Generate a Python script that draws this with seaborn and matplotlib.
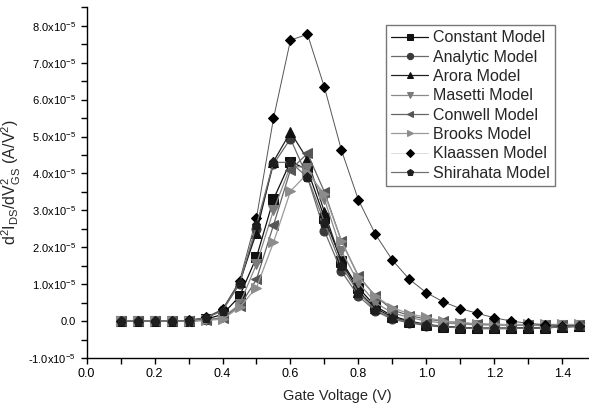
import numpy as np
import pandas as pd
import matplotlib
matplotlib.use("Agg")
import matplotlib.pyplot as plt
from matplotlib.ticker import MultipleLocator, FuncFormatter
import seaborn as sns

sns.set_style("ticks")
plt.rcParams["font.family"] = ["Liberation Sans", "DejaVu Sans"]
plt.rcParams["mathtext.default"] = "regular"

# Gate voltage sweep
gate_voltage = [0.10, 0.15, 0.20, 0.25, 0.30, 0.35, 0.40, 0.45, 0.50, 0.55,
                0.60, 0.65, 0.70, 0.75, 0.80, 0.85, 0.90, 0.95, 1.00, 1.05,
                1.10, 1.15, 1.20, 1.25, 1.30, 1.35, 1.40, 1.45]

# d2Ids/dVgs2 in units of 1e-5 A/V^2
constant = [0, 0, 0, 0, 0.01, 0.05, 0.18, 0.67, 1.73, 3.30, 4.32, 4.10, 2.80, 1.63,
            0.90, 0.40, 0.14, 0.00, -0.09, -0.14, -0.17, -0.19, -0.19, -0.19, -0.18,
            -0.17, -0.15, -0.13]
analytic = [0, 0, 0, 0, 0.01, 0.08, 0.30, 1.00, 2.50, 4.25, 4.94, 3.90, 2.44, 1.35,
            0.68, 0.27, 0.05, -0.05, -0.12, -0.16, -0.18, -0.20, -0.20, -0.20, -0.19,
            -0.18, -0.16, -0.14]
arora = [0, 0, 0, 0, 0.01, 0.08, 0.30, 1.05, 2.40, 4.32, 5.12, 4.38, 2.95, 1.60,
         0.80, 0.35, 0.10, -0.02, -0.10, -0.15, -0.18, -0.20, -0.20, -0.20, -0.19,
         -0.18, -0.16, -0.14]
masetti = [0, 0, 0, 0, 0, 0.03, 0.10, 0.45, 1.54, 3.00, 4.20, 4.16, 3.30, 1.90,
           1.04, 0.50, 0.22, 0.10, 0.00, -0.05, -0.08, -0.10, -0.11, -0.11, -0.11,
           -0.11, -0.10, -0.10]
conwell = [0, 0, 0, 0, 0, 0.02, 0.08, 0.40, 1.13, 2.60, 4.10, 4.54, 3.50, 2.17,
           1.22, 0.68, 0.30, 0.15, 0.05, 0.00, -0.05, -0.08, -0.09, -0.10, -0.10,
           -0.10, -0.10, -0.10]
brooks = [0, 0, 0, 0, 0, 0.02, 0.05, 0.37, 0.91, 2.13, 3.52, 4.00, 3.45, 2.17,
          1.20, 0.68, 0.36, 0.20, 0.10, 0.00, -0.04, -0.07, -0.09, -0.09, -0.09,
          -0.09, -0.09, -0.09]
klaassen = [0, 0, 0, 0, 0.02, 0.10, 0.32, 1.08, 2.80, 5.49, 7.61, 7.77, 6.33, 4.63,
            3.28, 2.35, 1.65, 1.13, 0.77, 0.52, 0.34, 0.21, 0.09, 0.00, -0.06,
            -0.10, -0.12, -0.12]
shirahata = [0, 0, 0, 0, 0.01, 0.08, 0.28, 1.02, 2.60, 4.30, 4.30, 3.90, 2.67, 1.49,
             0.77, 0.30, 0.08, -0.03, -0.10, -0.15, -0.18, -0.20, -0.20, -0.20, -0.19,
             -0.18, -0.16, -0.14]

models = ["Constant Model", "Analytic Model", "Arora Model", "Masetti Model",
          "Conwell Model", "Brooks Model", "Klaassen Model", "Shirahata Model"]
series = [constant, analytic, arora, masetti, conwell, brooks, klaassen, shirahata]

# marker, marker colour, line colour
styles = {
    "Constant Model": ("s", "#111111", "#111111"),
    "Analytic Model": ("o", "#3a3a3a", "#6a6a6a"),
    "Arora Model": ("^", "#111111", "#222222"),
    "Masetti Model": ("v", "#7a7a7a", "#8a8a8a"),
    "Conwell Model": ("<", "#555555", "#666666"),
    "Brooks Model": (">", "#8c8c8c", "#9a9a9a"),
    "Klaassen Model": ("D", "#000000", "#9a9a9a"),
    "Shirahata Model": ("p", "#1e1e1e", "#707070"),
}

df = pd.DataFrame({
    "Gate Voltage": np.tile(gate_voltage, len(models)),
    "value": np.concatenate([np.array(s) * 1e-5 for s in series]),
    "model": np.repeat(models, len(gate_voltage)),
})

fig = plt.figure(figsize=(5.89, 4.08), dpi=100)
ax = fig.add_axes([0.147, 0.1225, 0.851, 0.8605])

for m in models:
    mk, mc, lc = styles[m]
    sub = df[df["model"] == m]
    ms = 5.5 if mk == "D" else 6.5
    lw = 0.7 if m == "Klaassen Model" else 0.9
    line_col = "#555555" if m == "Klaassen Model" else lc
    sns.lineplot(data=sub, x="Gate Voltage", y="value", ax=ax, color=line_col,
                 marker=mk, markersize=ms, markerfacecolor=mc, markeredgecolor=mc,
                 linewidth=lw, label=m)

ax.set_xlim(0.0, 1.475)
ax.set_ylim(-1e-5, 8.51e-5)
ax.xaxis.set_major_locator(MultipleLocator(0.2))
ax.xaxis.set_minor_locator(MultipleLocator(0.1))
ax.yaxis.set_major_locator(MultipleLocator(1e-5))
ax.yaxis.set_minor_locator(MultipleLocator(0.5e-5))
ax.xaxis.set_major_formatter(FuncFormatter(lambda v, p: f"{v:.1f}"))


def yfmt(v, p):
    n = round(v / 1e-5, 1)
    if abs(n) < 1e-9:
        return "0.0"
    return f"{n:.1f}x10$^{{-5}}$"


ax.yaxis.set_major_formatter(FuncFormatter(yfmt))
ax.tick_params(which="both", direction="out", length=4, width=1, labelsize=8,
               colors="black")
ax.tick_params(axis="x", labelsize=9)
for s in ["top", "right"]:
    ax.spines[s].set_visible(False)
for s in ["left", "bottom"]:
    ax.spines[s].set_color("black")
    ax.spines[s].set_linewidth(1)

ax.set_xlabel("Gate Voltage (V)", fontsize=10.5, labelpad=6)
ax.set_ylabel("d$^2$I$_{DS}$/dV$^2_{GS}$ (A/V$^2$)", fontsize=11.5, labelpad=4)

# legend handles with the line colours seen in the box
leg = ax.legend(loc="upper right", bbox_to_anchor=(0.951, 0.972), fontsize=11.5,
                frameon=True, fancybox=False, handlelength=2.3, handletextpad=0.3,
                labelspacing=0.27, borderpad=0.35, markerscale=0.7)
leg.get_frame().set_edgecolor("#555555")
leg.get_frame().set_linewidth(1)
for h in leg.legend_handles:
    if h.get_label() == "Klaassen Model":
        h.set_color("#dddddd")
        h.set_markerfacecolor("#000000")
        h.set_markeredgecolor("#000000")

fig.savefig("out.png", dpi=100)
